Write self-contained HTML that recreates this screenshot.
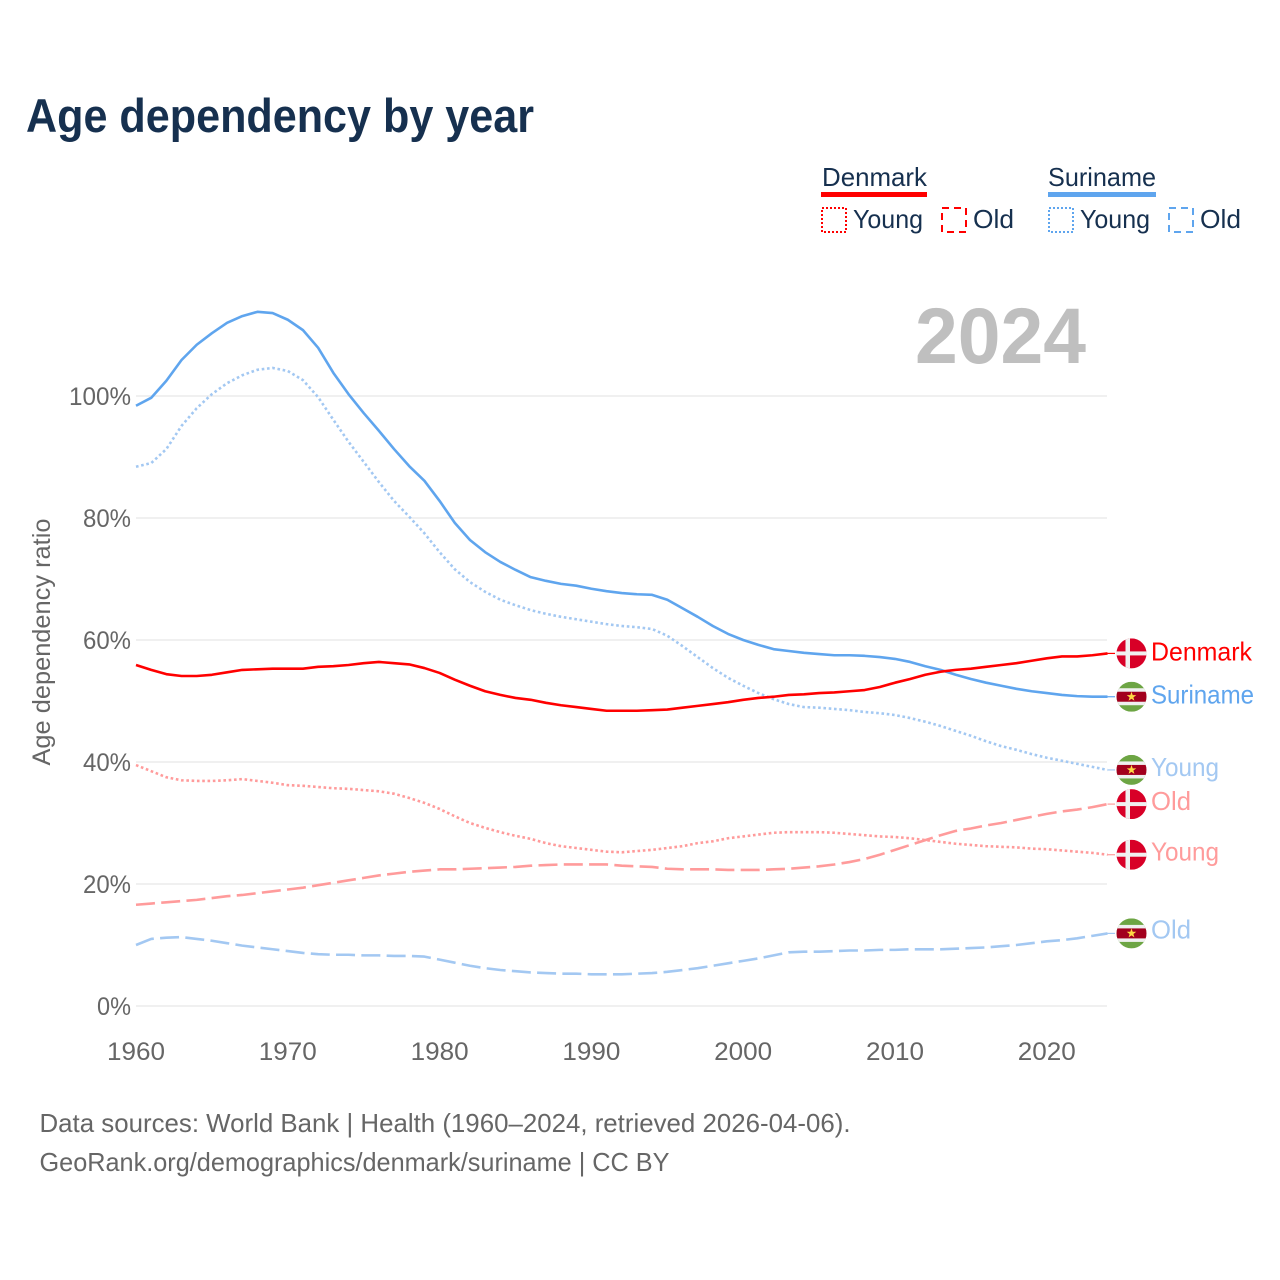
<!DOCTYPE html>
<html lang="en">
<head>
<meta charset="utf-8">
<title>Age dependency by year</title>
<style>
html,body{margin:0;padding:0;background:#fff;}
svg{display:block;font-family:"Liberation Sans",sans-serif;}
</style>
</head>
<body>
<svg id="chart" xmlns="http://www.w3.org/2000/svg" width="1280" height="1280" viewBox="0 0 1280 1280">
  <rect width="1280" height="1280" fill="#ffffff"/>
  <defs>
    <clipPath id="flag-clip"><circle cx="0" cy="0" r="15"/></clipPath>
  </defs>
  <text x="26" y="132" font-size="47" font-weight="700" fill="#16304f" textLength="508" lengthAdjust="spacingAndGlyphs">Age dependency by year</text>

  <g font-size="26" fill="#16304f">
    <text x="822" y="186" textLength="105" lengthAdjust="spacingAndGlyphs">Denmark</text>
    <rect x="821" y="192" width="106" height="5" fill="#ff0000"/>
    <rect x="822" y="208" width="24" height="24" fill="none" stroke="#ff0000" stroke-width="2" stroke-dasharray="2 2"/>
    <text x="853" y="228" textLength="70" lengthAdjust="spacingAndGlyphs">Young</text>
    <rect x="942" y="208" width="24" height="24" fill="none" stroke="#ff0000" stroke-width="2" stroke-dasharray="7 5"/>
    <text x="973" y="228" textLength="41" lengthAdjust="spacingAndGlyphs">Old</text>
    <text x="1048" y="186" textLength="108" lengthAdjust="spacingAndGlyphs">Suriname</text>
    <rect x="1048" y="192" width="108" height="5" fill="#5fa5ee"/>
    <rect x="1049" y="208" width="24" height="24" fill="none" stroke="#5fa5ee" stroke-width="2" stroke-dasharray="2 2"/>
    <text x="1080" y="228" textLength="70" lengthAdjust="spacingAndGlyphs">Young</text>
    <rect x="1169" y="208" width="24" height="24" fill="none" stroke="#5fa5ee" stroke-width="2" stroke-dasharray="7 5"/>
    <text x="1200" y="228" textLength="41" lengthAdjust="spacingAndGlyphs">Old</text>
  </g>

  <g id="grid"></g>
  <g id="y-ticks"></g>
  <g id="x-ticks"></g>
  <g id="series"></g>
  <g id="end-labels"></g>

  <text x="915" y="363" font-size="79" font-weight="700" fill="#bfbfbf" textLength="171" lengthAdjust="spacingAndGlyphs">2024</text>
  <text transform="translate(50 642) rotate(-90)" text-anchor="middle" font-size="25" fill="#666666" textLength="247" lengthAdjust="spacingAndGlyphs">Age dependency ratio</text>
  <text x="39.5" y="1132" font-size="26" fill="#666666" textLength="811" lengthAdjust="spacingAndGlyphs">Data sources: World Bank | Health (1960–2024, retrieved 2026-04-06).</text>
  <text x="39.5" y="1171" font-size="26" fill="#666666" textLength="630" lengthAdjust="spacingAndGlyphs">GeoRank.org/demographics/denmark/suriname | CC BY</text>
</svg>
<script>
const years = [1960,1961,1962,1963,1964,1965,1966,1967,1968,1969,
  1970,1971,1972,1973,1974,1975,1976,1977,1978,1979,
  1980,1981,1982,1983,1984,1985,1986,1987,1988,1989,
  1990,1991,1992,1993,1994,1995,1996,1997,1998,1999,
  2000,2001,2002,2003,2004,2005,2006,2007,2008,2009,
  2010,2011,2012,2013,2014,2015,2016,2017,2018,2019,
  2020,2021,2022,2023,2024];
const yTickValues = [0,20,40,60,80,100];
const xTickValues = [1960,1970,1980,1990,2000,2010,2020];

const surinameTotal = [98.4,99.7,102.5,105.9,108.4,110.3,112.0,113.1,113.8,113.6,
  112.5,110.8,107.9,103.8,100.3,97.2,94.3,91.3,88.5,86.1,
  82.8,79.2,76.4,74.4,72.8,71.5,70.3,69.7,69.2,68.9,
  68.4,68.0,67.7,67.5,67.4,66.6,65.2,63.8,62.3,61.0,
  60.0,59.2,58.5,58.2,57.9,57.7,57.5,57.5,57.4,57.2,
  56.9,56.4,55.7,55.1,54.3,53.6,53.0,52.5,52.0,51.6,
  51.3,51.0,50.8,50.7,50.7];
const surinameYoung = [88.4,89.0,91.3,95.1,98.0,100.3,102.1,103.4,104.3,104.6,
  104.1,102.6,99.8,96.1,92.5,89.2,85.9,82.8,80.2,77.5,
  74.4,71.6,69.5,67.9,66.6,65.7,64.9,64.3,63.8,63.4,
  63.0,62.6,62.3,62.1,61.8,60.7,59.0,57.2,55.4,53.8,
  52.5,51.3,50.3,49.5,49.0,48.9,48.7,48.5,48.2,48.0,
  47.7,47.2,46.6,45.9,45.1,44.3,43.4,42.6,42.0,41.3,
  40.7,40.2,39.7,39.2,38.7];
const surinameOld = [10.0,11.0,11.2,11.3,11.0,10.7,10.3,9.9,9.6,9.3,
  9.0,8.7,8.5,8.4,8.4,8.3,8.3,8.2,8.2,8.1,
  7.6,7.1,6.6,6.2,5.9,5.7,5.5,5.4,5.3,5.3,
  5.2,5.2,5.2,5.3,5.4,5.6,5.9,6.2,6.6,7.0,
  7.4,7.8,8.3,8.8,8.9,8.9,9.0,9.1,9.1,9.2,
  9.2,9.3,9.3,9.3,9.4,9.5,9.6,9.8,10.0,10.3,
  10.6,10.8,11.1,11.5,11.9];
const denmarkTotal = [55.9,55.1,54.4,54.1,54.1,54.3,54.7,55.1,55.2,55.3,
  55.3,55.3,55.6,55.7,55.9,56.2,56.4,56.2,56.0,55.4,
  54.6,53.5,52.5,51.6,51.0,50.5,50.2,49.7,49.3,49.0,
  48.7,48.4,48.4,48.4,48.5,48.6,48.9,49.2,49.5,49.8,
  50.2,50.5,50.7,51.0,51.1,51.3,51.4,51.6,51.8,52.3,
  53.0,53.6,54.3,54.8,55.1,55.3,55.6,55.9,56.2,56.6,
  57.0,57.3,57.3,57.5,57.8];
const denmarkYoung = [39.5,38.5,37.5,37.0,36.9,36.9,37.0,37.2,36.9,36.6,
  36.2,36.1,35.9,35.7,35.6,35.4,35.2,34.8,34.1,33.3,
  32.3,31.1,30.0,29.2,28.5,27.9,27.4,26.7,26.2,25.9,
  25.6,25.3,25.2,25.4,25.6,25.9,26.2,26.7,27.0,27.5,
  27.8,28.1,28.4,28.5,28.5,28.5,28.4,28.2,28.0,27.8,
  27.7,27.5,27.2,26.9,26.6,26.4,26.2,26.1,26.0,25.8,
  25.7,25.5,25.3,25.1,24.8];
const denmarkOld = [16.6,16.8,17.0,17.2,17.4,17.7,18.0,18.2,18.5,18.8,
  19.1,19.4,19.8,20.2,20.6,21.0,21.4,21.7,22.0,22.2,
  22.4,22.4,22.5,22.6,22.7,22.8,23.0,23.1,23.2,23.2,
  23.2,23.2,23.0,22.9,22.8,22.5,22.4,22.4,22.4,22.3,
  22.3,22.3,22.4,22.5,22.7,22.9,23.2,23.6,24.1,24.8,
  25.6,26.4,27.2,28.0,28.7,29.1,29.6,30.0,30.5,31.0,
  31.5,31.9,32.2,32.6,33.1];

const SVG_NS = 'http://www.w3.org/2000/svg';
function xScale(year){ return 136 + (year - 1960) * 15.18; }
function yScale(pct){ return 1006 - pct * 6.1; }
function make(tag, attrs, parent){
  const el = document.createElementNS(SVG_NS, tag);
  for (const k in attrs) el.setAttribute(k, attrs[k]);
  parent.appendChild(el);
  return el;
}

const gridGroup = document.getElementById('grid');
const yTickGroup = document.getElementById('y-ticks');
const xTickGroup = document.getElementById('x-ticks');
const seriesGroup = document.getElementById('series');
const labelGroup = document.getElementById('end-labels');

yTickValues.forEach(function(v){
  const line = make('line', {x1:136, x2:1107, y1:yScale(v), y2:yScale(v), stroke:'#ebebeb', 'stroke-width':1.5}, gridGroup);
  
  
  const t = make('text', {x:131, y:yScale(v) + 9, 'text-anchor':'end', 'font-size':25, fill:'#666666'}, yTickGroup);
  
  
  t.setAttribute('textLength', String(v === 100 ? 62 : v === 0 ? 34 : 48));
  t.setAttribute('lengthAdjust', 'spacingAndGlyphs');
  t.textContent = v + '%';
});

xTickValues.forEach(function(v){
  const t = make('text', {x:xScale(v), y:1060, 'text-anchor':'middle', 'font-size':25, fill:'#666666'}, xTickGroup);
  
  
  t.setAttribute('textLength', '58');
  t.setAttribute('lengthAdjust', 'spacingAndGlyphs');
  t.textContent = v;
});

const DOTTED = '2.6 2.7';
const DASHED = '19 6.3';
const seriesList = [
  {id:'denmark-old', values:denmarkOld, color:'#ff9b9b', dash:DASHED, label:'Old', flag:'dk', labelX:1151, w:40, dy:6},
  {id:'denmark-young', values:denmarkYoung, color:'#ff9b9b', dash:DOTTED, label:'Young', flag:'dk', labelX:1151, w:68, dy:6},
  {id:'suriname-old', values:surinameOld, color:'#a3c8f2', dash:DASHED, label:'Old', flag:'sr', labelX:1151, w:40, dy:5},
  {id:'suriname-young', values:surinameYoung, color:'#a3c8f2', dash:DOTTED, label:'Young', flag:'sr', labelX:1151, w:68, dy:6},
  {id:'suriname-total', values:surinameTotal, color:'#5fa5ee', dash:'', label:'Suriname', flag:'sr', labelX:1151, w:103, dy:7},
  {id:'denmark-total', values:denmarkTotal, color:'#ff0000', dash:'', label:'Denmark', flag:'dk', labelX:1151, w:101, dy:7}
];

function drawFlag(kind, cx, cy, parent){
  const outer = make('g', {transform:'translate(' + cx + ' ' + cy + ')'}, parent);
  
  
  const g = make('g', {'clip-path':'url(#flag-clip)'}, outer);
  if (kind === 'dk') {
    make('rect', {x:-15, y:-15, width:30, height:30, fill:'#d80027'}, g);
    make('rect', {x:-6, y:-15, width:4.5, height:30, fill:'#f0f0f0'}, g);
    make('rect', {x:-15, y:-2, width:30, height:4, fill:'#f0f0f0'}, g);
  } else {
    make('rect', {x:-15, y:-15, width:30, height:30, fill:'#6da544'}, g);
    make('rect', {x:-15, y:-8.5, width:30, height:17, fill:'#f0f0f0'}, g);
    make('rect', {x:-15, y:-5, width:30, height:10, fill:'#a2001d'}, g);
    make('polygon', {points:'0,-5 1.2,-1.6 4.8,-1.6 1.9,0.6 2.9,4 0,2 -2.9,4 -1.9,0.6 -4.8,-1.6 -1.2,-1.6', fill:'#ffda44'}, g);
  }
}

seriesList.forEach(function(s){
  const pts = s.values.map(function(v, i){ return xScale(years[i]).toFixed(2) + ',' + yScale(v).toFixed(2); }).join(' ');
  const attrs = {points:pts, fill:'none', stroke:s.color, 'stroke-width':2.6, 'stroke-linejoin':'round'};
  if (s.dash) attrs['stroke-dasharray'] = s.dash;
  const line = make('polyline', attrs, seriesGroup);
  
  

  const lastValue = s.values[s.values.length - 1];
  const endY = yScale(lastValue);
  const connector = make('line', {x1:xScale(years[years.length - 1]), x2:1115, y1:endY, y2:endY, stroke:s.color, 'stroke-width':1.2}, labelGroup);
  
  

  drawFlag(s.flag, 1131.5, endY, labelGroup);

  const t = make('text', {x:s.labelX, y:endY + s.dy, 'font-size':26, fill:s.color, textLength:s.w, lengthAdjust:'spacingAndGlyphs'}, labelGroup);
  
  
  t.textContent = s.label;
});
</script>
</body>
</html>
